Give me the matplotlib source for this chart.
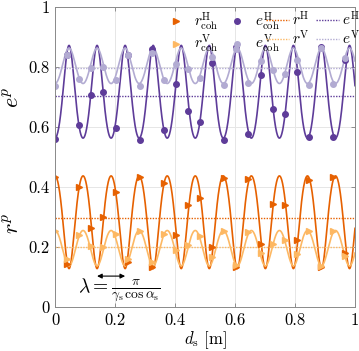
import numpy as np
import matplotlib
matplotlib.use("Agg")
import matplotlib.pyplot as plt
from matplotlib.lines import Line2D

plt.rcParams["font.family"] = "serif"
plt.rcParams["font.serif"] = ["cmr10"]
plt.rcParams["mathtext.fontset"] = "cm"
plt.rcParams["axes.formatter.use_mathtext"] = True

# colours (PuOr)
c_rH = "#e66101"
c_rV = "#fdb863"
c_eH = "#5e3c99"
c_eV = "#b2abd2"

# coherent samples
d_coh = [0.0, 0.040, 0.081, 0.121, 0.161, 0.202, 0.242, 0.282, 0.322, 0.362,
         0.403, 0.443, 0.483, 0.523, 0.563, 0.604, 0.644, 0.685, 0.725, 0.765,
         0.806, 0.846, 0.887, 0.927, 0.968]
eH_coh = [0.559, 0.840, 0.607, 0.708, 0.716, 0.597, 0.840, 0.558, 0.860, 0.591,
          0.742, 0.653, 0.616, 0.812, 0.557, 0.866, 0.576, 0.773, 0.659, 0.642,
          0.784, 0.568, 0.866, 0.568, 0.825]
eV_coh = [0.738, 0.840, 0.760, 0.798, 0.801, 0.757, 0.840, 0.738, 0.846, 0.757,
          0.809, 0.792, 0.764, 0.832, 0.740, 0.859, 0.746, 0.820, 0.790, 0.776,
          0.823, 0.740, 0.862, 0.743, 0.831]
rH_coh = [0.435, 0.145, 0.400, 0.265, 0.300, 0.385, 0.150, 0.432, 0.132, 0.415,
          0.240, 0.340, 0.365, 0.200, 0.430, 0.134, 0.426, 0.210, 0.345, 0.340,
          0.225, 0.425, 0.134, 0.432, 0.180]
rV_coh = [0.255, 0.160, 0.240, 0.202, 0.199, 0.243, 0.160, 0.255, 0.150, 0.243,
          0.191, 0.208, 0.236, 0.168, 0.255, 0.141, 0.250, 0.180, 0.210, 0.224,
          0.177, 0.255, 0.138, 0.253, 0.169]

# incoherent (mean) levels
rH_inc = 0.296
rV_inc = 0.201
eH_inc = 0.702
eV_inc = 0.796

# read extremes and period of the coherent curves
period = 0.0935
rH_max, rH_min = 0.437, 0.128
rV_max, rV_min = 0.255, 0.137


def layer_curve(d, rmax, rmin):
    # two-interface (Airy) reflectivity matching the read extremes
    s = np.arctanh(np.sqrt(rmax))
    t = np.arctanh(np.sqrt(rmin))
    r1, r2 = np.tanh((s + t) / 2), np.tanh((s - t) / 2)
    c = np.cos(2 * np.pi * d / period)
    return ((r1**2 + r2**2 + 2 * r1 * r2 * c) /
            (1 + (r1 * r2)**2 + 2 * r1 * r2 * c))


d = np.linspace(0, 1, 1500)
rH = layer_curve(d, rH_max, rH_min)
rV = layer_curve(d, rV_max, rV_min)

fig = plt.figure(figsize=(3.59, 3.51), dpi=100)
ax = fig.add_axes([55 / 359, 1 - 307 / 351, 300 / 359, 300 / 351])

lw = 1.2
ax.plot(d, 1 - rH, color=c_eH, lw=lw)
ax.plot(d, 1 - rV, color=c_eV, lw=lw)
ax.plot(d, rH, color=c_rH, lw=lw)
ax.plot(d, rV, color=c_rV, lw=lw)

dot = (0, (1, 1))
ax.axhline(eH_inc, color=c_eH, lw=1, ls=dot)
ax.axhline(eV_inc, color=c_eV, lw=1, ls=dot)
ax.axhline(rH_inc, color=c_rH, lw=1, ls=dot)
ax.axhline(rV_inc, color=c_rV, lw=1, ls=dot)

ms = 4
ax.plot(d_coh, eH_coh, 'o', color=c_eH, ms=ms, ls='none')
ax.plot(d_coh, eV_coh, 'o', color=c_eV, ms=ms, ls='none')
ax.plot(d_coh, rH_coh, '>', color=c_rH, ms=ms, ls='none')
ax.plot(d_coh, rV_coh, '>', color=c_rV, ms=ms, ls='none')

# wavelength annotation
ax.annotate('', xy=(1.5 * period, 0.103), xytext=(2.5 * period, 0.103),
            arrowprops=dict(arrowstyle='<|-|>', color='k', lw=0.8,
                            mutation_scale=7, shrinkA=0, shrinkB=0))
ax.text(0.215, 0.058, r'$\lambda = \frac{\pi}{\gamma_{\rm s}\,\cos\alpha_{\rm s}}$',
        ha='center', va='center', fontsize=14)

ax.set_xlim(0, 1)
ax.set_ylim(0, 1)
ax.set_xticks([0, 0.2, 0.4, 0.6, 0.8, 1])
ax.set_yticks([0, 0.2, 0.4, 0.6, 0.8, 1])
ax.set_xticklabels(['0', '0.2', '0.4', '0.6', '0.8', '1'])
ax.set_yticklabels(['0', '0.2', '0.4', '0.6', '0.8', '1'])
ax.grid(True, color='#e6e6e6', lw=0.7)
ax.set_axisbelow(True)
ax.tick_params(direction='in', length=3, width=0.6, color='#808080',
               labelsize=12, top=True, right=True, pad=4)
for sp in ax.spines.values():
    sp.set_color('#8a8a8a')
    sp.set_linewidth(0.7)

ax.set_xlabel(r'$d_{\rm s}$ [m]', fontsize=12, labelpad=1)
ax.text(-0.14, 0.7, r'$e^p$', rotation=90, ha='center', va='center',
        fontsize=16, transform=ax.transAxes)
ax.text(-0.14, 0.28, r'$r^p$', rotation=90, ha='center', va='center',
        fontsize=16, transform=ax.transAxes)

# legend: markers (short handles) and mean lines (long handles)
mk_handles = [
    Line2D([], [], marker='>', color=c_rH, ls='none', ms=ms),
    Line2D([], [], marker='>', color=c_rV, ls='none', ms=ms),
    Line2D([], [], marker='o', color=c_eH, ls='none', ms=ms),
    Line2D([], [], marker='o', color=c_eV, ls='none', ms=ms),
]
mk_labels = [r'$r^{\rm H}_{\rm coh}$', r'$r^{\rm V}_{\rm coh}$',
             r'$e^{\rm H}_{\rm coh}$', r'$e^{\rm V}_{\rm coh}$']
ln_handles = [
    Line2D([], [], color=c_rH, ls=dot, lw=1),
    Line2D([], [], color=c_rV, ls=dot, lw=1),
    Line2D([], [], color=c_eH, ls=dot, lw=1),
    Line2D([], [], color=c_eV, ls=dot, lw=1),
]
ln_labels = [r'$r^{\rm H}$', r'$r^{\rm V}$', r'$e^{\rm H}$', r'$e^{\rm V}$']

leg1 = ax.legend(mk_handles, mk_labels, ncol=2, loc='upper left',
                 frameon=False, fontsize=11, handlelength=0.6,
                 handletextpad=0.9, columnspacing=0.9, labelspacing=0.05,
                 borderaxespad=0, borderpad=0,
                 bbox_to_anchor=(116 / 300, 0.988))
ax.add_artist(leg1)
ax.legend(ln_handles, ln_labels, ncol=2, loc='upper left', frameon=False,
          fontsize=11, handlelength=1.5, handletextpad=0.2,
          columnspacing=0.4, labelspacing=0.05, borderaxespad=0,
          borderpad=0, bbox_to_anchor=(211 / 300, 0.988))

fig.savefig('out.png', dpi=100)
